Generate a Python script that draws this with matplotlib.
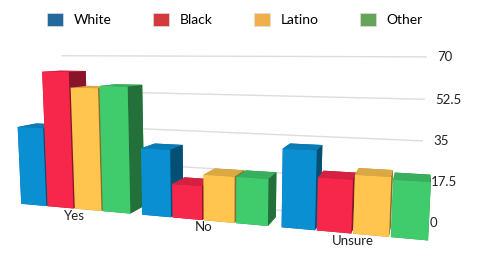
import numpy as np
import matplotlib.pyplot as plt
from matplotlib.colors import to_rgb
from matplotlib.patches import Patch
from mpl_toolkits.mplot3d import proj3d

plt.rcParams['font.family'] = ['Lato', 'DejaVu Sans']

answers = ['Yes', 'No', 'Unsure']
groups = ['White', 'Black', 'Latino', 'Other']
white = [37, 30, 33]
black = [63, 15, 22]
latino = [56, 20, 24]
other = [57, 20, 23]
z_ticks = [0, 17.5, 35, 52.5, 70]
z_labels = ['0', '17.5', '35', '52.5', '70']

bar_colors = ['#0a90d2', '#f7264b', '#ffc54e', '#40cc6c']
legend_colors = ['#23699b', '#d33a3c', '#efb04c', '#65a559']

values = np.array([white, black, latino, other])  # series x answer

fig = plt.figure(figsize=(4.8, 2.59), dpi=100)
ax = fig.add_axes([-0.262, -0.425, 1.42, 1.75], projection='3d')

gap = 4.35
w = 0.95
depth = 0.9


def face_colors(c):
    # bar3d face order: bottom, top, front, back, left, right
    c = np.array(to_rgb(c))
    return [c * 0.7, c * 0.86, c, c * 0.7, c * 0.8, c * 0.55]


xs, heights, cols = [], [], []
for i in range(len(answers)):
    for j in range(len(groups)):
        xs.append(i * gap + j)
        heights.append(values[j, i])
        cols.extend(face_colors(bar_colors[j]))
xs = np.array(xs, dtype=float)
ax.bar3d(xs, np.zeros_like(xs), np.zeros_like(xs), w, depth, heights,
         color=cols, shade=False, edgecolor='none')

x_end = 2 * gap + len(groups)
y_back = 1.6
for z in z_ticks:
    ax.plot([0.6, x_end - 0.3], [y_back, y_back], [z, z], color='#dddddd', lw=1, zorder=-5)

ax.set_xlim(0, x_end + 0.5)
ax.set_ylim(0, y_back)
ax.set_zlim(0, 70)
ax.set_box_aspect((x_end + 0.5, 1.8, 4.8))
ax.set_proj_type('persp', focal_length=0.25)
ax.view_init(elev=8, azim=-72)
ax.set_axis_off()

# project label anchors to 2D so the texts are plain 2D texts
fig.canvas.draw()
M = ax.get_proj()


def to2d(x, y, z):
    px, py, _ = proj3d.proj_transform(x, y, z, M)
    return px, py


for z, lab in zip(z_ticks, z_labels):
    px, py = to2d(x_end, y_back, z)
    ax.text2D(px, py, lab, transform=ax.transData, fontsize=9.5,
              color='#222222', va='center', ha='left')

for i, a in enumerate(answers):
    px, py = to2d(i * gap + 2, 0, -0.5)
    ax.text2D(px, py, a, transform=ax.transData, fontsize=9.5,
              color='#222222', ha='center', va='top')

handles = [Patch(facecolor=c, edgecolor='#dddddd', lw=0.5) for c in legend_colors]
fig.legend(handles, groups, loc='upper center', ncol=4, frameon=False,
           fontsize=10, handlelength=1.1, handleheight=1.1, columnspacing=3.0,
           bbox_to_anchor=(0.49, 1.0))

fig.savefig('out.png', dpi=100)
